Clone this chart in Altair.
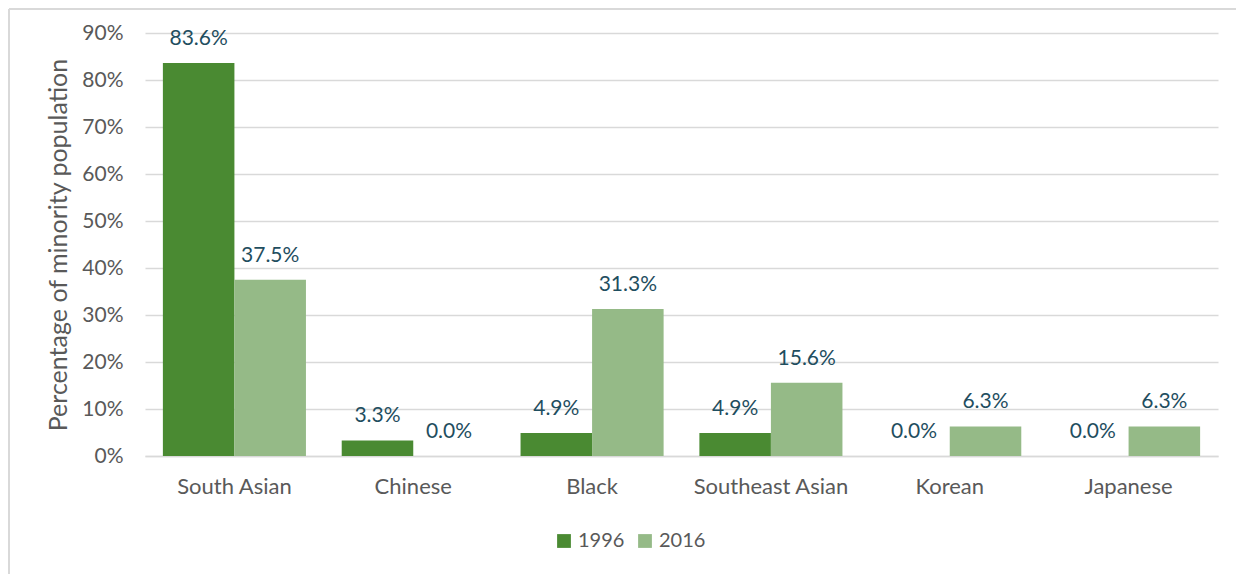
import altair as alt
import pandas as pd

categories = ["South Asian", "Chinese", "Black", "Southeast Asian", "Korean", "Japanese"]
years = ["1996", "2016"]
values_1996 = [83.6, 3.3, 4.9, 4.9, 0.0, 0.0]
values_2016 = [37.5, 0.0, 31.3, 15.6, 6.3, 6.3]
y_ticks = [0, 0.1, 0.2, 0.3, 0.4, 0.5, 0.6, 0.7, 0.8, 0.9]

rows = []
for c, a, b in zip(categories, values_1996, values_2016):
    rows.append({"category": c, "year": "1996", "value": a / 100, "label": f"{a:.1f}%"})
    rows.append({"category": c, "year": "2016", "value": b / 100, "label": f"{b:.1f}%"})
df = pd.DataFrame(rows)

FONT = "Lato"
W, H = 1073, 423

x_enc = alt.X("category:N", sort=categories, title=None,
              scale=alt.Scale(paddingInner=0.2, paddingOuter=0.1),
              axis=alt.Axis(labelAngle=0, labelFont=FONT, labelFontSize=22, labelColor="#595959",
                            labelPadding=20, ticks=False, domainColor="#D9D9D9", domainWidth=1.5,
                            grid=False))
xoff = alt.XOffset("year:N", sort=years, scale=alt.Scale(paddingInner=0, paddingOuter=0))
y_enc = alt.Y("value:Q", scale=alt.Scale(domain=[0, 0.9], nice=False),
              axis=alt.Axis(format=".0%", values=y_ticks, title="Percentage of minority population",
                            titleFont=FONT, titleFontSize=25, titleFontWeight="normal",
                            titleColor="#595959", titleX=-87, titleY=H / 2, titleAngle=-90,
                            titleAlign="center", titleBaseline="middle",
                            labelFont=FONT, labelFontSize=21, labelColor="#595959",
                            labelPadding=22, ticks=False, domain=False,
                            gridColor="#D9D9D9", gridWidth=1.5))

bars = alt.Chart(df).mark_bar().encode(
    x=x_enc, xOffset=xoff, y=y_enc,
    color=alt.Color("year:N", sort=years,
                    scale=alt.Scale(domain=years, range=["#4A8A32", "#95BA87"]),
                    legend=alt.Legend(title=None, orient="none", direction="horizontal",
                                      legendX=409, legendY=498, symbolType="square",
                                      symbolSize=190, symbolStrokeWidth=0,
                                      labelFont=FONT, labelFontSize=20, labelColor="#595959",
                                      columnPadding=10, labelOffset=4)),
)

labels = alt.Chart(df).mark_text(baseline="bottom", dy=-14, font=FONT, fontSize=21,
                                 color="#1F4E5F").encode(
    x=alt.X("category:N", sort=categories), xOffset=xoff, y="value:Q", text="label:N")

frame_left = alt.Chart(df).mark_rule(stroke="#D9D9D9", strokeWidth=1.5).encode(
    x=alt.value(-136), y=alt.value(-24), y2=alt.value(H + 300))
frame_top = alt.Chart(df).mark_rule(stroke="#D9D9D9", strokeWidth=1.5).encode(
    x=alt.value(-136), x2=alt.value(W + 100), y=alt.value(-24))

chart = alt.layer(frame_left, frame_top, bars, labels).properties(
    width=W, height=H,
    autosize=alt.AutoSizeParams(type="none"),
    padding={"left": 137, "top": 25, "right": 18, "bottom": 118},
).configure(font=FONT).configure_view(stroke="transparent", strokeWidth=0)

chart.save("out.html", embed_options={"renderer": "svg", "actions": False})
